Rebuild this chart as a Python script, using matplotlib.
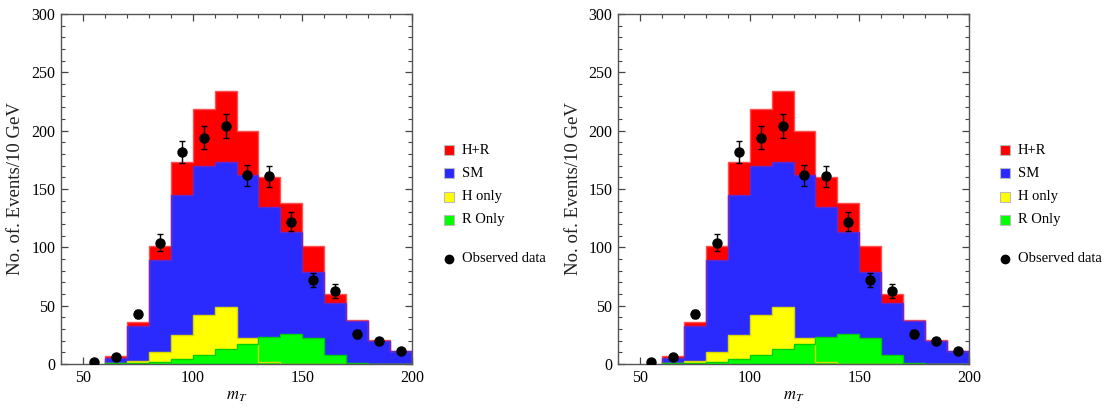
import numpy as np
import matplotlib
matplotlib.use("Agg")
import matplotlib.pyplot as plt
from matplotlib.patches import Rectangle
from matplotlib.lines import Line2D

plt.rcParams['font.family'] = ['Liberation Serif', 'DejaVu Serif']
plt.rcParams['mathtext.fontset'] = 'stix'

bin_edges = [60, 70, 80, 90, 100, 110, 120, 130, 140, 150, 160, 170, 180, 190, 200]
hr_values = [7, 36, 101, 173, 219, 234, 200, 160, 138, 101, 60, 38, 21, 11]
sm_values = [5, 33, 89, 145, 170, 173, 162, 135, 113, 79, 52, 37, 20, 11]
h_only = [0.5, 3, 10, 24.5, 42, 49, 22, 2, 0.3, 0.2, 0.1, 0, 0, 0]
r_only = [0.5, 1, 2, 4.5, 7.5, 12.5, 17.5, 23.5, 26, 22.5, 8, 1, 0.3, 0]

obs_x = [55, 65, 75, 85, 95, 105, 115, 125, 135, 145, 155, 165, 175, 185, 195]
obs_y = [1.5, 5.7, 43, 104, 182, 194, 204, 162, 161, 122, 72, 63, 26, 20, 11.4]
obs_err = [0.5, 1.0, 3.4, 7.4, 9.5, 10, 10.3, 9, 9, 8, 6, 6, 3.3, 2.5, 1.5]

legend_labels = ["H+R", "SM", "H only", "R Only"]
colors = ["#ff0000", "#2a2aff", "#ffff00", "#00ff00"]
edgecolors = ["#ff5050", "#6a28c8", "#d8d800", "#00d000"]

fig = plt.figure(figsize=(11.08, 4.08), dpi=100)
W, H = 1108, 408

def panel(left_px):
    ax = fig.add_axes([left_px / W, (H - 364) / H, 351 / W, 350 / H])
    series = [hr_values, sm_values, h_only, r_only]
    for vals, c, ec in zip(series, colors, edgecolors):
        ax.stairs(vals, bin_edges, fill=True, color=c, zorder=2)
        ax.stairs(vals, bin_edges, fill=False, color=ec, lw=1.0, zorder=2.1)
    ax.errorbar(obs_x, obs_y, yerr=obs_err, fmt='o', color='black', ms=6.5,
                elinewidth=1.0, capsize=2.2, capthick=1.0, zorder=5)
    ax.set_xlim(40, 200)
    ax.set_ylim(0, 300)
    ax.set_xticks([50, 100, 150, 200])
    ax.set_xticks(np.arange(40, 201, 10), minor=True)
    ax.set_yticks(np.arange(0, 301, 50))
    ax.set_yticks(np.arange(0, 301, 10), minor=True)
    ax.tick_params(which='both', direction='in', top=True, right=True,
                   color='#444444', labelsize=11.5, pad=4)
    ax.tick_params(which='major', length=5, width=0.9)
    ax.tick_params(which='minor', length=3, width=0.8)
    for s in ax.spines.values():
        s.set_color('#555555')
        s.set_linewidth(1.0)
    ax.set_ylabel("No. of. Events/10 GeV", fontsize=13.5, color='#222222', labelpad=5)
    ax.set_xlabel("$m_T$", fontsize=12, labelpad=2)
    return ax

def legend(x_px):
    ys = [150, 173, 197, 220]
    for y, lab, c in zip(ys, legend_labels, colors):
        fig.patches.append(Rectangle(((x_px - 5) / W, (H - y - 5) / H), 10 / W, 10 / H,
                                     transform=fig.transFigure, facecolor=c,
                                     edgecolor='#bbbbbb', lw=0.8))
        fig.text((x_px + 13) / W, (H - y) / H, lab, fontsize=10.5, va='center', ha='left')
    fig.lines.append(Line2D([x_px / W], [(H - 259) / H], marker='o', color='black',
                            ms=6, transform=fig.transFigure))
    fig.text((x_px + 13) / W, (H - 259) / H, "Observed data", fontsize=10.5,
             va='center', ha='left')

panel(61)
panel(618)
legend(449)
legend(1005)

fig.savefig("out.png", dpi=100)
